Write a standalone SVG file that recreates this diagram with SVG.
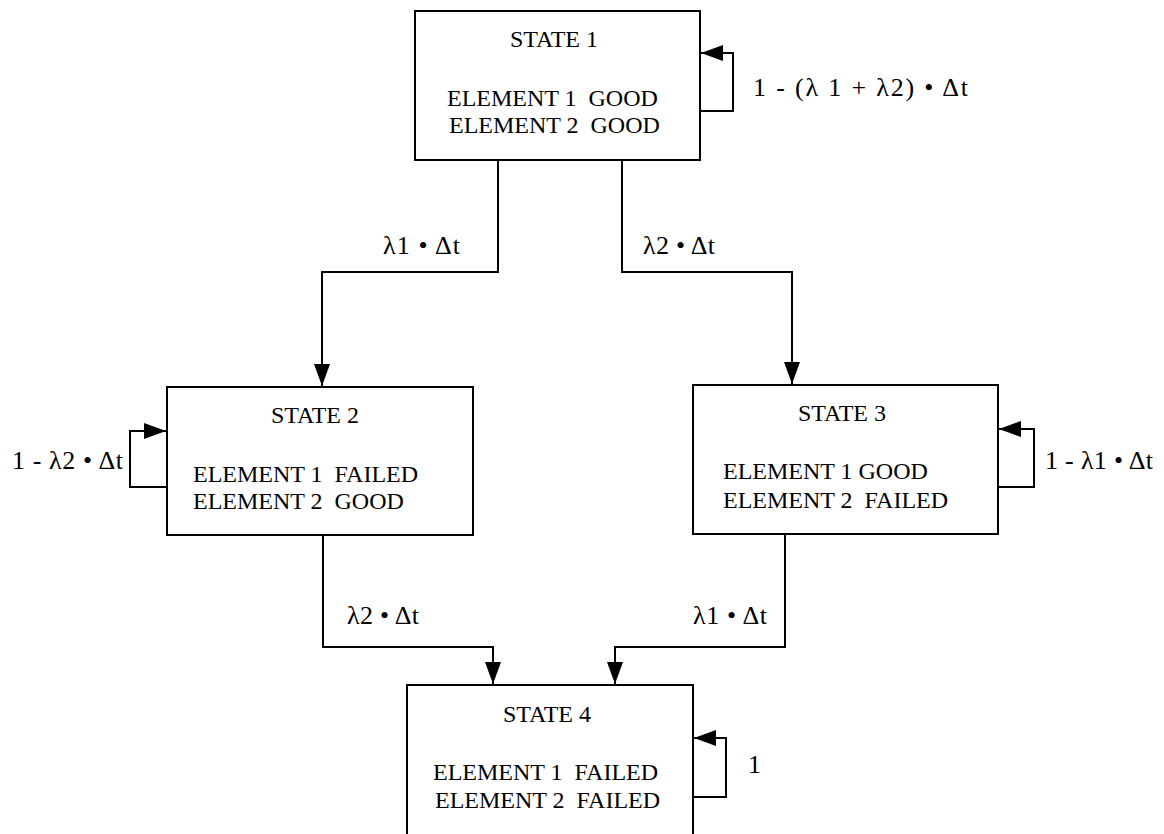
<svg xmlns="http://www.w3.org/2000/svg" width="1164" height="834" viewBox="0 0 1164 834">
<style>
.box{fill:#fff;stroke:#000;stroke-width:2}
.t{font-family:"Liberation Serif","Times New Roman",serif;font-size:24px;fill:#000}
.lb{font-size:26px}
.c{text-anchor:middle}
.ln{fill:none;stroke:#000;stroke-width:2}
</style>
<defs>
<marker id="ah" markerUnits="userSpaceOnUse" markerWidth="22" markerHeight="16" refX="22" refY="8" orient="auto">
<path d="M0,0 L22,8 L0,16 z" fill="#000"/>
</marker>
</defs>
<rect width="1164" height="834" fill="#fff"/>
<g id="connectors">
<path class="ln" d="M498,160 V272 H322 V386" marker-end="url(#ah)"/>
<path class="ln" d="M622,160 V272 H792 V384" marker-end="url(#ah)"/>
<path class="ln" d="M323,535 V647 H493 V684" marker-end="url(#ah)"/>
<path class="ln" d="M785,534 V647 H615 V684" marker-end="url(#ah)"/>
<path class="ln" d="M700,111 H733 V53 H701" marker-end="url(#ah)"/>
<path class="ln" d="M167,487 H130 V431 H166" marker-end="url(#ah)"/>
<path class="ln" d="M998,487 H1034 V429 H999" marker-end="url(#ah)"/>
<path class="ln" d="M693,797 H726 V738 H694" marker-end="url(#ah)"/>
<text class="t lb" x="383" y="254" textLength="77" lengthAdjust="spacing">λ1 • Δt</text>
<text class="t lb" x="643" y="254" textLength="72" lengthAdjust="spacing">λ2 • Δt</text>
<text class="t lb" x="347" y="624" textLength="72" lengthAdjust="spacing">λ2 • Δt</text>
<text class="t lb" x="693" y="624" textLength="74" lengthAdjust="spacing">λ1 • Δt</text>
<text class="t lb" x="753" y="96" textLength="215" lengthAdjust="spacing">1 - (λ 1 + λ2) • Δt</text>
<text class="t lb" x="12" y="469" textLength="111" lengthAdjust="spacing">1 - λ2 • Δt</text>
<text class="t lb" x="1045" y="469" textLength="108" lengthAdjust="spacing">1 - λ1 • Δt</text>
<text class="t lb" x="748" y="773">1</text>
</g>
<g id="state1">
<rect class="box" x="415" y="11" width="285" height="149"/>
<text class="t c" x="554" y="47">STATE 1</text>
<text class="t" x="447" y="106" xml:space="preserve">ELEMENT 1  GOOD</text>
<text class="t" x="449" y="133" xml:space="preserve">ELEMENT 2  GOOD</text>
</g>
<g id="state2">
<rect class="box" x="167" y="387" width="306" height="148"/>
<text class="t c" x="315" y="423">STATE 2</text>
<text class="t" x="193" y="482" xml:space="preserve">ELEMENT 1  FAILED</text>
<text class="t" x="193" y="509" xml:space="preserve">ELEMENT 2  GOOD</text>
</g>
<g id="state3">
<rect class="box" x="693" y="385" width="305" height="149"/>
<text class="t c" x="842" y="421">STATE 3</text>
<text class="t" x="723" y="479">ELEMENT 1 GOOD</text>
<text class="t" x="723" y="508" xml:space="preserve">ELEMENT 2  FAILED</text>
</g>
<g id="state4">
<rect class="box" x="407" y="685" width="286" height="160"/>
<text class="t c" x="547" y="722">STATE 4</text>
<text class="t" x="433" y="780" xml:space="preserve">ELEMENT 1  FAILED</text>
<text class="t" x="435" y="808" xml:space="preserve">ELEMENT 2  FAILED</text>
</g>
</svg>
